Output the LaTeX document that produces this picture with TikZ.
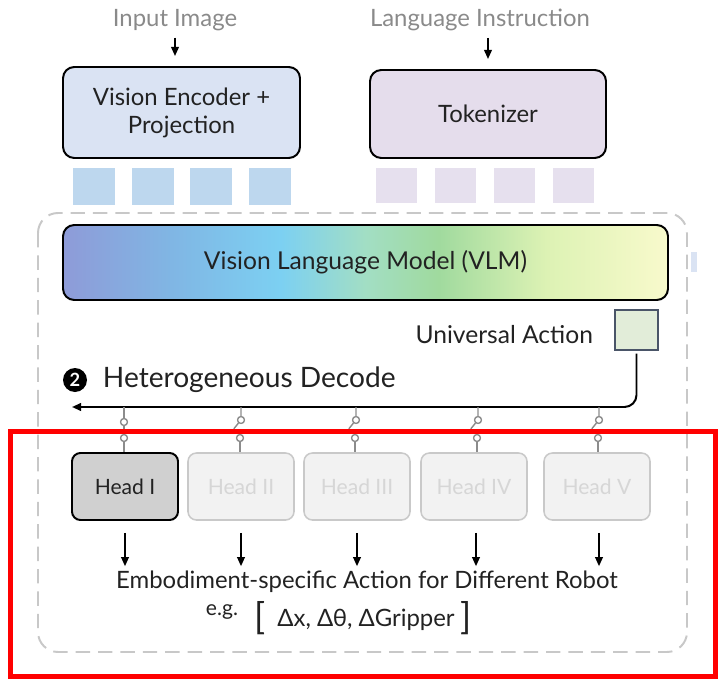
\documentclass[tikz,border=0pt]{standalone}
\usepackage{fontspec}
\setmainfont{Lato}
\usetikzlibrary{arrows.meta, positioning}

\definecolor{ink}{HTML}{222222}
\definecolor{capgray}{HTML}{8A8A8A}
\definecolor{encfill}{HTML}{DAE3F3}
\definecolor{tokfill}{HTML}{E5DDEC}
\definecolor{vtokfill}{HTML}{BDD7EE}
\definecolor{ttokfill}{HTML}{E6E0EE}
\definecolor{framegray}{HTML}{C8C8C8}
\definecolor{uafill}{HTML}{E2EDD9}
\definecolor{uaedge}{HTML}{4A5568}
\definecolor{wiregray}{HTML}{8C8C8C}
\definecolor{headfill}{HTML}{F2F2F2}
\definecolor{headedge}{HTML}{C9C9C9}
\definecolor{headtext}{HTML}{D6D6D6}
\definecolor{activefill}{HTML}{D0D0D0}
\definecolor{markred}{HTML}{FF0000}
% VLM colour ramp
\definecolor{vlmA}{HTML}{8E9BD8}
\definecolor{vlmB}{HTML}{80B6E4}
\definecolor{vlmC}{HTML}{7CD0F2}
\definecolor{vlmD}{HTML}{A2DEC4}
\definecolor{vlmE}{HTML}{A0DA9E}
\definecolor{vlmF}{HTML}{DDF2B4}
\definecolor{vlmG}{HTML}{F8FACC}

\pgfdeclarehorizontalshading{vlmramp}{100bp}{color(0bp)=(vlmA); color(25bp)=(vlmA);
  color(34bp)=(vlmB); color(43bp)=(vlmC); color(50bp)=(vlmD); color(56bp)=(vlmE);
  color(65bp)=(vlmF); color(75bp)=(vlmG); color(100bp)=(vlmG)}

\begin{document}
\begin{tikzpicture}[
  font=\fontsize{17}{20}\selectfont,
  text=ink,
  caption/.style={text=capgray, font=\fontsize{17}{20}\selectfont},
  box/.style={
    draw=black,
    line width=1.4pt,
    rounded corners=8pt,
    align=center
  },
  vtok/.style={fill=vtokfill, minimum width=1.05cm, minimum height=0.925cm, inner sep=0pt},
  ttok/.style={fill=ttokfill, minimum width=1.025cm, minimum height=0.875cm, inner sep=0pt},
  head/.style={
    draw=headedge,
    line width=1.1pt,
    rounded corners=6pt,
    fill=headfill,
    text=headtext,
    minimum width=2.65cm,
    minimum height=1.675cm,
    font=\fontsize{15}{18}\selectfont
  },
  activehead/.style={head, draw=black, line width=1.4pt, fill=activefill, text=ink},
  arrow/.style={
    -{Triangle[length=6.5pt, width=5.5pt]},
    line width=1.2pt
  },
  wire/.style={
    draw=wiregray,
    line width=1pt
  },
  contact/.style={circle, draw=wiregray, line width=0.9pt, fill=white, inner sep=0pt, minimum size=0.17cm}
]
\useasboundingbox (0,0) rectangle (17.95,-16.975);

% Inputs
\node[caption] (inimg) at (4.375,-0.5) {Input Image};
\node[caption] (lang) at (12.0,-0.5) {Language Instruction};

% Encoders
\node[box, fill=encfill, minimum width=5.925cm, minimum height=2.275cm] (venc) at (4.5375,-2.8125) {Vision Encoder +\\Projection};
\node[box, fill=tokfill, minimum width=5.9cm, minimum height=2.2cm] (tok) at (12.2,-2.85) {Tokenizer};

% Token rows
\node[vtok] (v1) at (2.35,-4.6625) {};
\node[vtok, right=0.4cm of v1] (v2) {};
\node[vtok, right=0.4cm of v2] (v3) {};
\node[vtok, right=0.4cm of v3] (v4) {};
\node[ttok] (t1) at (9.9125,-4.6375) {};
\node[ttok, right=0.44cm of t1] (t2) {};
\node[ttok, right=0.44cm of t2] (t3) {};
\node[ttok, right=0.44cm of t3] (t4) {};

% Dashed frame
\draw[framegray, line width=1.4pt, dash pattern=on 0.36cm off 0.2cm, rounded corners=0.5cm]
  (0.95,-5.325) rectangle (17.175,-16.3);
\fill[encfill] (17.28,-6.3) rectangle (17.43,-6.8);

% VLM
\node[box, shading=vlmramp, minimum width=15.125cm, minimum height=1.875cm, font=\fontsize{17.5}{20}\selectfont] (vlm) at (9.1375,-6.5625) {Vision Language Model (VLM)};

% Universal action
\node[draw=uaedge, line width=1pt, fill=uafill, minimum width=1.075cm, minimum height=1cm] (ua) at (15.9125,-8.25) {};
\node[anchor=east, font=\fontsize{17.5}{20}\selectfont] (ualabel) at (14.95,-8.375) {Universal Action};

% Decode line
\coordinate (dend) at (1.8,-10.175);
\draw[arrow, line width=1.4pt, rounded corners=0.3cm] ([yshift=-2pt]ua.south) |- (dend);
\node[circle, fill=black, text=white, inner sep=0pt, minimum size=0.6cm, font=\fontsize{13}{13}\selectfont\bfseries] (badge) at (1.875,-9.5) {2};
\node[anchor=west, font=\fontsize{20}{23}\selectfont] (decode) at (2.45,-9.5) {Heterogeneous Decode};

% Heads
\node[activehead] (h1) at (3.125,-12.1625) {Head I};
\node[head] (h2) at (6.025,-12.1625) {Head II};
\node[head] (h3) at (8.925,-12.1625) {Head III};
\node[head] (h4) at (11.85,-12.1625) {Head IV};
\node[head] (h5) at (14.925,-12.1625) {Head V};

% Switches
\node[contact] (u1) at (3.1,-10.55) {};
\node[contact] (l1) at (3.1,-10.95) {};
\node[contact] (u2) at (6.025,-10.5) {};
\node[contact] (l2) at (6.0,-10.95) {};
\node[contact] (u3) at (8.9,-10.5) {};
\node[contact] (l3) at (8.875,-10.95) {};
\node[contact] (u4) at (11.95,-10.5) {};
\node[contact] (l4) at (11.925,-10.95) {};
\node[contact] (u5) at (14.975,-10.5) {};
\node[contact] (l5) at (14.95,-10.95) {};

\draw[wire] (u1 |- dend) -- (u1) -- (l1) -- (l1 |- h1.north);
\draw[wire] (u2 |- dend) -- (u2) -- ++(-0.18,-0.22);
\draw[wire] (l2) -- (l2 |- h2.north);
\draw[wire] (u3 |- dend) -- (u3) -- ++(-0.18,-0.22);
\draw[wire] (l3) -- (l3 |- h3.north);
\draw[wire] (u4 |- dend) -- (u4) -- ++(-0.18,-0.22);
\draw[wire] (l4) -- (l4 |- h4.north);
\draw[wire] (u5 |- dend) -- (u5) -- ++(-0.18,-0.22);
\draw[wire] (l5) -- (l5 |- h5.north);
\node[contact] at (u1) {};
\node[contact] at (l1) {};
\node[contact] at (u2) {};
\node[contact] at (u3) {};
\node[contact] at (u4) {};
\node[contact] at (u5) {};
\node[contact] at (l2) {};
\node[contact] at (l3) {};
\node[contact] at (l4) {};
\node[contact] at (l5) {};

% Outputs
\node (embod) at (9.175,-14.55) {Embodiment-specific Action for Different Robot};
\node[font=\fontsize{15}{17}\selectfont] (eg) at (5.55,-15.3) {e.g.};
\node (lbrack) at (6.5,-15.45) {\fontsize{26}{26}\selectfont[};
\node (delta) at (9.15,-15.5) {Δx, Δθ, ΔGripper};
\node (rbrack) at (11.65,-15.45) {\fontsize{26}{26}\selectfont]};

\draw[arrow, shorten <=0.3cm] (h1.south) -- (h1.south |- embod.north);
\draw[arrow, shorten <=0.3cm] (h2.south) -- (h2.south |- embod.north);
\draw[arrow, shorten <=0.3cm] (h3.south) -- (h3.south |- embod.north);
\draw[arrow, shorten <=0.3cm] ([xshift=0.05cm]h4.south) -- ([xshift=0.05cm]h4.south |- embod.north);
\draw[arrow, shorten <=0.3cm] ([xshift=0.05cm]h5.south) -- ([xshift=0.05cm]h5.south |- embod.north);

% Input arrows
\draw[arrow, shorten <=0.05cm, shorten >=0.25cm] (inimg.south) -- (inimg.south |- venc.north);
\draw[arrow, shorten <=0.05cm, shorten >=0.25cm] (lang.south -| tok.north) -- (tok.north);

% Highlight
\draw[markred, line width=0.125cm] (0.25,-10.775) rectangle (17.875,-16.9);
\end{tikzpicture}
\end{document}
